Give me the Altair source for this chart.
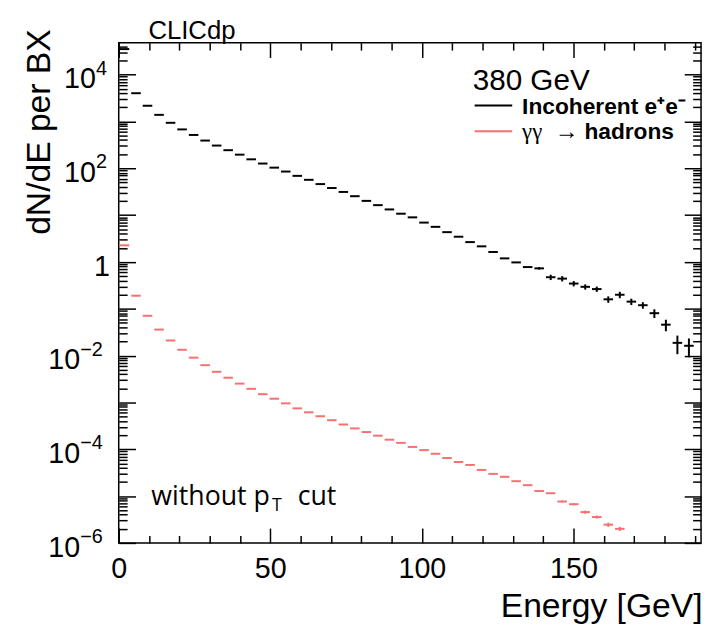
import altair as alt
import pandas as pd

# ---------------- data ----------------
BIN_EDGES = [0, 3.8, 7.6, 11.4, 15.2, 19, 22.8, 26.6, 30.4, 34.2, 38, 41.8, 45.6, 49.4,
             53.2, 57, 60.8, 64.6, 68.4, 72.2, 76, 79.8, 83.6, 87.4, 91.2, 95, 98.8,
             102.6, 106.4, 110.2, 114, 117.8, 121.6, 125.4, 129.2, 133, 136.8, 140.6,
             144.4, 148.2, 152, 155.8, 159.6, 163.4, 167.2, 171, 174.8, 178.6, 182.4,
             186.2, 190]

INCOHERENT = [35000, 4000, 2160, 1380, 934, 675, 514, 390, 305, 243,
              195, 155, 126, 103, 85, 68.8, 56.6, 45.9, 37.8, 31.2,
              25.3, 20.1, 16.3, 13.2, 10.7, 8.94, 6.91, 5.61, 4.32, 3.45,
              2.65, 2.15, 1.63, 1.19, 0.976, 0.777, 0.729, 0.471, 0.440, 0.345,
              0.294, 0.263, 0.159, 0.199, 0.142, 0.119, 0.0804, 0.0457, 0.0187, 0.0162]
INCOHERENT_ERR = [0] * 36 + [0.045, 0.061, 0.057, 0.045, 0.038, 0.034, 0.025, 0.031,
                             0.022, 0.019, 0.017, 0.0126, 0.008, 0.007]

HADRONS = [2.26, 0.190, 0.0708, 0.0359, 0.0210, 0.0133, 0.00903, 0.00624, 0.00451, 0.00337,
           0.00252, 0.00195, 0.00150, 0.00120, 0.000953, 0.000747, 0.000615, 0.000507,
           0.000417, 0.000338, 0.000279, 2.33e-4, 1.95e-4, 1.60e-4, 1.37e-4, 1.12e-4,
           9.57e-5, 8.0e-5, 6.49e-5, 5.35e-5, 4.62e-5, 3.62e-5, 2.98e-5, 2.58e-5,
           2.08e-5, 1.71e-5, 1.28e-5, 1.15e-5, 7.66e-6, 6.71e-6, 4.55e-6, 3.57e-6,
           2.45e-6, 2.0e-6]
HADRONS_ERR = [0] * 38 + [0.38e-6, 0.33e-6, 0.34e-6, 0.27e-6, 0.25e-6, 0.2e-6]

X_MAJOR = [0, 50, 100, 150]
X_MINOR = [10, 20, 30, 40, 60, 70, 80, 90, 110, 120, 130, 140, 160, 170, 180, 190]
Y_DECADES = [1e-6, 1e-5, 1e-4, 1e-3, 1e-2, 1e-1, 1, 10, 100, 1000, 10000]
Y_LABEL_VALUES = [1e-6, 1e-4, 1e-2, 1, 1e2, 1e4]
Y_LABEL_BASE = ["10", "10", "10", "1", "10", "10"]
Y_LABEL_EXP = ["\u22126", "\u22124", "\u22122", "", "2", "4"]
Y_MINOR = [m * d for d in Y_DECADES for m in range(2, 10) if m * d < 4.8e4]

X_TITLE = "Energy [GeV]"
Y_TITLE = "dN/dE per BX"
ENERGY_LABEL = "380 GeV"
LEGEND_1 = "Incoherent e\u207ae\u207b"
LEGEND_2_SYM = "\u03b3\u03b3"
LEGEND_2_ARROW = "\u2192"
LEGEND_2_TXT = "hadrons"
CUT_MAIN = "without p"
CUT_SUB = "T"
CUT_END = "cut"
BRAND = "CLICdp"

BLACK = "#000000"
RED = "#f76f6f"

# ---------------- layout ----------------
W, H = 589, 506
XMAX = 192.1
YMIN, YMAX = 1e-6, 4.8e4
FONT = "Liberation Sans"

xs = alt.Scale(domain=[0, XMAX], nice=False, zero=False)
ys = alt.Scale(type="log", domain=[YMIN, YMAX], nice=False)

def frame(values, errs, n):
    df = pd.DataFrame({"lo": BIN_EDGES[:n], "hi": BIN_EDGES[1:n + 1], "v": values, "err": errs})
    df["mid"] = (df["lo"] + df["hi"]) / 2
    df["low"] = df["v"] - df["err"]
    df["up"] = df["v"] + df["err"]
    return df

black = frame(INCOHERENT, INCOHERENT_ERR, len(INCOHERENT))
red = frame(HADRONS, HADRONS_ERR, len(HADRONS))
ylabels = pd.DataFrame({"v": Y_LABEL_VALUES, "base": Y_LABEL_BASE, "exp": Y_LABEL_EXP})

def segs(df, color):
    return alt.Chart(df).mark_rule(color=color, strokeWidth=2, xOffset=1, x2Offset=-1).encode(
        x=alt.X("lo:Q", scale=xs, axis=None), x2="hi:Q",
        y=alt.Y("v:Q", scale=ys, axis=None))

def errs(df, color):
    return alt.Chart(df[df["err"] > 0]).mark_rule(color=color, strokeWidth=2).encode(
        x=alt.X("mid:Q", scale=xs, axis=None),
        y=alt.Y("low:Q", scale=ys, axis=None), y2="up:Q")

def tick_axis(orient, offset, values, size):
    return alt.Axis(orient=orient, offset=offset, values=values, tickSize=size, tickWidth=1.5,
                    tickColor="black", labels=False, domain=False, grid=False, title=None)

def axis_layer(xaxis, yaxis):
    return alt.Chart(black).mark_point(opacity=0).encode(
        x=alt.X("lo:Q", scale=xs, axis=xaxis),
        y=alt.Y("v:Q", scale=ys, axis=yaxis))

x_lab = alt.Axis(orient="bottom", values=X_MAJOR, labelFontSize=29, labelFont=FONT, labelColor="black",
                 ticks=False, tickSize=0, domain=False, grid=False, labelPadding=35,
                 labelBaseline="alphabetic", labelFlush=False, labelOverlap=False,
                 title=X_TITLE, titleFont=FONT, titleFontSize=34, titleFontWeight="normal",
                 titleColor="black", titleX=W + 1, titleY=74, titleAlign="right",
                 titleBaseline="alphabetic")
y_lab = alt.Axis(orient="left", values=Y_LABEL_VALUES, labels=False, ticks=False, tickSize=0,
                 domain=False, grid=False,
                 title=Y_TITLE, titleFont=FONT, titleFontSize=34, titleFontWeight="normal",
                 titleColor="black", titleAngle=270, titleX=-70, titleY=-14,
                 titleAlign="right", titleBaseline="alphabetic")

def ylabel_layer(filter_expr, base_x, exp_x, base_align):
    src = alt.Chart(ylabels).transform_filter(filter_expr)
    base = src.mark_text(align=base_align, baseline="alphabetic", fontSize=29, font=FONT,
                         color="black", dy=14).encode(
        text="base:N", x=alt.value(base_x), y=alt.Y("v:Q", scale=ys, axis=None))
    expo = src.mark_text(align="left", baseline="alphabetic", fontSize=20, font=FONT,
                         color="black", dy=0).encode(
        text="exp:N", x=alt.value(exp_x), y=alt.Y("v:Q", scale=ys, axis=None))
    return [base, expo]

layers = [
    axis_layer(x_lab, y_lab),
    axis_layer(tick_axis("top", -H, X_MAJOR, 15), tick_axis("right", -W, Y_DECADES, 17)),
    axis_layer(tick_axis("top", -H, X_MINOR, 7.5), tick_axis("right", -W, Y_MINOR, 8.5)),
    axis_layer(tick_axis("bottom", -H, X_MAJOR, 15), tick_axis("left", -W, Y_DECADES, 17)),
    axis_layer(tick_axis("bottom", -H, X_MINOR, 7.5), tick_axis("left", -W, Y_MINOR, 8.5)),
    segs(black, BLACK), errs(black, BLACK),
    segs(red, RED), errs(red, RED),
]
layers += ylabel_layer("datum.v > 1", -23, -23, "right")
layers += ylabel_layer("datum.v < 1", -39, -39, "right")
layers += ylabel_layer("datum.v == 1", -9, -9, "right")

def text(t, x, y, size, font=FONT, weight="normal", align="left", color="black"):
    return alt.Chart(pd.DataFrame({"t": [t]})).mark_text(
        align=align, baseline="alphabetic", fontSize=size, font=font, fontWeight=weight, color=color
    ).encode(text="t:N", x=alt.value(x), y=alt.value(y))

def legend_line(x1, x2, y, color):
    return alt.Chart(pd.DataFrame({"t": [0]})).mark_rule(color=color, strokeWidth=2).encode(
        x=alt.value(x1), x2=alt.value(x2), y=alt.value(y))

layers += [
    text(BRAND, 30, -4, 26),
    text(ENERGY_LABEL, 358, 48, 30),
    legend_line(360, 398, 63.5, BLACK),
    text(LEGEND_1, 408, 72, 23, weight="bold"),
    legend_line(360, 398, 89.5, RED),
    text(LEGEND_2_SYM, 408, 97, 23, font="Liberation Serif"),
    text(LEGEND_2_ARROW, 441, 97, 24, font="Liberation Serif"),
    text(LEGEND_2_TXT, 471, 97, 23, weight="bold"),
    text(CUT_MAIN, 33, 468, 27, font="Open Sans"),
    text(CUT_SUB, 155, 474, 18, font="Open Sans"),
    text(CUT_END, 181, 468, 27, font="Open Sans"),
]

chart = alt.layer(*layers).resolve_axis(x="independent", y="independent").properties(
    width=W, height=H,
    autosize=alt.AutoSizeParams(type="none"),
    padding={"left": 112, "top": 31.5, "right": 4, "bottom": 84},
).configure(font=FONT).configure_view(stroke="black", strokeWidth=1.5)

chart.save("out.html", embed_options={"renderer": "svg", "actions": False})
